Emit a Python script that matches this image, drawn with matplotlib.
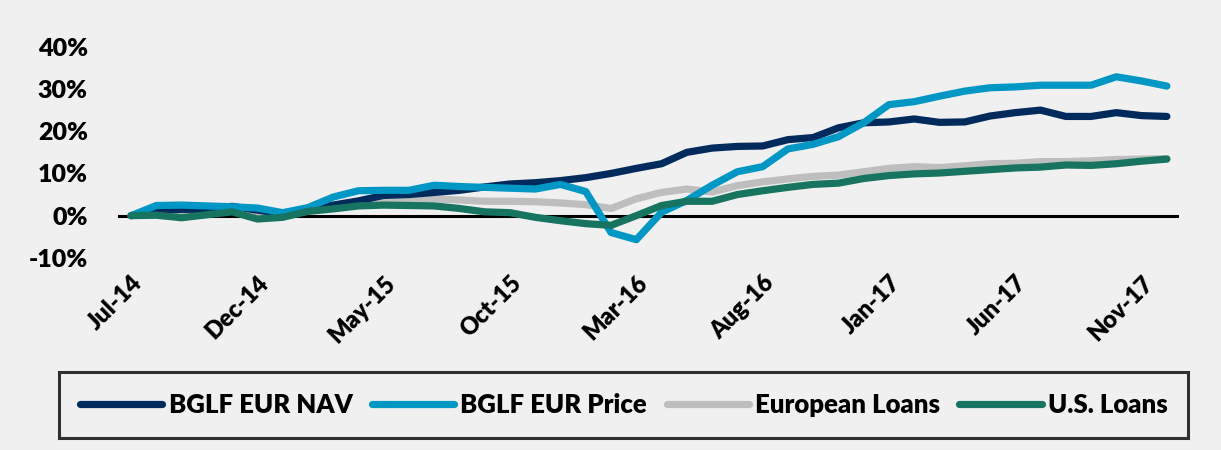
import matplotlib
matplotlib.use("Agg")
import matplotlib.pyplot as plt
import pandas as pd
from matplotlib.ticker import FuncFormatter

plt.rcParams['font.family'] = ['Lato', 'DejaVu Sans']
plt.rcParams['font.weight'] = 'heavy'

# monthly cumulative returns, Jul-14 .. Dec-17 (%)
months = pd.date_range('2014-07-01', '2017-12-01', freq='MS')
month_labels = [d.strftime('%b-%y') for d in months]

nav = [0, 1.2, 1.5, 1.5, 2.2, 1.3, 0.5, 1.5, 2.5, 3.5,
       4.8, 5.0, 5.5, 6.0, 6.8, 7.5, 7.8, 8.3, 9.0, 10.0,
       11.2, 12.3, 15.0, 16.0, 16.4, 16.5, 18.0, 18.5, 20.8, 22.0,
       22.2, 22.9, 22.1, 22.2, 23.6, 24.4, 25.0, 23.5, 23.5, 24.4,
       23.7, 23.5]
price = [0, 2.4, 2.5, 2.3, 2.1, 1.8, 0.7, 1.9, 4.4, 5.9,
         6.0, 6.0, 7.2, 6.9, 6.7, 6.5, 6.3, 7.4, 5.7, -4.0,
         -5.7, 0.8, 3.6, 7.2, 10.4, 11.6, 15.8, 16.9, 18.7, 22.0,
         26.3, 27.0, 28.3, 29.5, 30.3, 30.5, 30.9, 30.9, 30.9, 32.9,
         31.9, 30.7]
eur_loans = [0, 0.5, 0.3, 0.8, 1.3, 0.3, 0.2, 1.3, 2.0, 3.0,
             3.6, 3.7, 4.0, 3.7, 3.4, 3.4, 3.3, 3.0, 2.6, 1.7,
             4.0, 5.5, 6.3, 5.6, 7.1, 8.0, 8.7, 9.3, 9.6, 10.4,
             11.2, 11.6, 11.4, 11.8, 12.3, 12.4, 12.8, 12.8, 13.0, 13.3,
             13.4, 13.5]
us_loans = [0, 0.1, -0.5, 0.2, 0.9, -0.8, -0.4, 1.0, 1.6, 2.3,
            2.5, 2.4, 2.3, 1.7, 0.9, 0.7, -0.4, -1.2, -1.9, -2.3,
            0.0, 2.4, 3.4, 3.4, 5.0, 5.9, 6.7, 7.4, 7.7, 8.8,
            9.5, 9.9, 10.1, 10.5, 10.9, 11.3, 11.5, 12.0, 11.9, 12.3,
            12.9, 13.4]

series = [
    ('BGLF EUR NAV', nav, '#002B5C'),
    ('BGLF EUR Price', price, '#0097C4'),
    ('European Loans', eur_loans, '#BEBEBE'),
    ('U.S. Loans', us_loans, '#167461'),
]
zorders = [3, 4, 2, 5]

bg = '#F0F0F0'
fig = plt.figure(figsize=(12.21, 4.5), dpi=100, facecolor=bg)
ax = fig.add_axes([0.097, 0.427, 0.869, 0.469], facecolor=bg)

x = list(range(len(months)))
ax.axhline(0, color='black', lw=2.2, zorder=1)
for (name, vals, col), z in zip(series, zorders):
    ax.plot(x, vals, color=col, lw=5.2, label=name, zorder=z,
            solid_capstyle='round', solid_joinstyle='round')

ax.set_xlim(-0.5, len(months) - 0.5)
ax.set_ylim(-10, 40)
ax.set_yticks([-10, 0, 10, 20, 30, 40])
ax.yaxis.set_major_formatter(FuncFormatter(lambda v, p: f'{v:.0f}%'))
ax.set_xticks(x[::5])
ax.set_xticklabels(month_labels[::5], rotation=45, ha='right',
                   rotation_mode='anchor')
ax.tick_params(axis='y', length=0, labelsize=18, pad=22)
ax.tick_params(axis='x', length=0, labelsize=17, pad=10)
for s in ax.spines.values():
    s.set_visible(False)

leg = fig.legend(loc='center', bbox_to_anchor=(0.511, 0.1), ncol=4,
                 frameon=True, fancybox=False, fontsize=18.5,
                 handlelength=3.2, handletextpad=0.25, columnspacing=0.75,
                 borderpad=0.8)
leg.get_frame().set_edgecolor('black')
leg.get_frame().set_linewidth(2.2)
leg.get_frame().set_facecolor(bg)

fig.savefig('out.png', dpi=100, facecolor=bg)
